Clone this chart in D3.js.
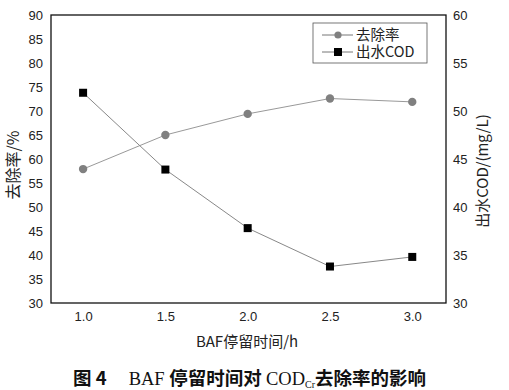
<!DOCTYPE html>
<html>
<head>
<meta charset="utf-8">
<script src="https://cdn.jsdelivr.net/npm/d3@7"></script>
<style>
body{margin:0;background:#fff;}
text{font-family:"Liberation Sans",Arial,sans-serif;}
.cjk{font-family:"Noto Sans CJK SC","Liberation Sans",sans-serif;}
</style>
</head>
<body>
<div id="chart"></div>
<script>
const width=509;
const height=390;

//data
const hours=[1.0,1.5,2.0,2.5,3.0];
const removalRate=[57.9,65.0,69.4,72.6,71.9];
const effluentCOD=[51.9,43.9,37.8,33.8,34.8];
const xTicks=[1.0,1.5,2.0,2.5,3.0];
const leftTicks=d3.range(30,91,5);
const rightTicks=d3.range(30,61,5);

const margin={top:15,right:63,bottom:87,left:51};

const svg=d3.select("#chart")
          .append("svg")
          .attr("width",width)
          .attr("height",height);

const x=d3.scaleLinear().domain([0.805,3.205]).range([margin.left,width-margin.right]);
const yL=d3.scaleLinear().domain([30,90]).range([height-margin.bottom,margin.top]);
const yR=d3.scaleLinear().domain([30,60]).range([height-margin.bottom,margin.top]);

//axes without tick marks, only labels
const fmt=d3.format(".1f");
const xAxis=svg.append("g")
    .attr("transform",`translate(0,${height-margin.bottom})`)
    .call(d3.axisBottom(x).tickValues(xTicks).tickFormat(fmt).tickSize(0).tickPadding(9));
const leftAxis=svg.append("g")
    .attr("transform",`translate(${margin.left},0)`)
    .call(d3.axisLeft(yL).tickValues(leftTicks).tickSize(0).tickPadding(8));
const rightAxis=svg.append("g")
    .attr("transform",`translate(${width-margin.right},0)`)
    .call(d3.axisRight(yR).tickValues(rightTicks).tickSize(0).tickPadding(7));

[xAxis,leftAxis,rightAxis].forEach(g=>{
    g.select(".domain").remove();
    g.selectAll("text").attr("font-size",13).attr("fill","#222")
        .attr("font-family","Liberation Sans, Arial, sans-serif");
});

//frame
svg.append("rect")
    .attr("x",margin.left).attr("y",margin.top)
    .attr("width",width-margin.left-margin.right)
    .attr("height",height-margin.top-margin.bottom)
    .attr("fill","none").attr("stroke","#111").attr("stroke-width",1.3);

//removal rate line (left axis)
const lineL=d3.line().x((d,i)=>x(hours[i])).y(d=>yL(d));
svg.append("path")
    .attr("d",lineL(removalRate))
    .attr("fill","none").attr("stroke","#999").attr("stroke-width",1);
svg.append("g").selectAll("circle")
    .data(removalRate)
    .enter()
    .append("circle")
    .attr("cx",(d,i)=>x(hours[i]))
    .attr("cy",d=>yL(d))
    .attr("r",4.2)
    .attr("fill","#808080");

//COD line (right axis)
const lineR=d3.line().x((d,i)=>x(hours[i])).y(d=>yR(d));
svg.append("path")
    .attr("d",lineR(effluentCOD))
    .attr("fill","none").attr("stroke","#888").attr("stroke-width",1);
svg.append("g").selectAll("rect")
    .data(effluentCOD)
    .enter()
    .append("rect")
    .attr("x",(d,i)=>x(hours[i])-4)
    .attr("y",d=>yR(d)-4)
    .attr("width",8).attr("height",8)
    .attr("fill","#000");

//legend
const legend=svg.append("g").attr("transform","translate(313,23)");
legend.append("rect")
    .attr("width",114).attr("height",40)
    .attr("fill","#fff").attr("stroke","#555").attr("stroke-width",0.8);
const legendItems=[{label:"去除率",type:"circle"},{label:"出水COD",type:"square"}];
legendItems.forEach((it,i)=>{
    const gy=12+i*17;
    legend.append("line")
        .attr("x1",9).attr("x2",40).attr("y1",gy).attr("y2",gy)
        .attr("stroke","#777").attr("stroke-width",1);
    if(it.type==="circle"){
        legend.append("circle").attr("cx",25).attr("cy",gy).attr("r",3.6).attr("fill","#808080");
    }else{
        legend.append("rect").attr("x",21).attr("y",gy-4).attr("width",8).attr("height",8).attr("fill","#000");
    }
    legend.append("text")
        .attr("class","cjk")
        .attr("x",43).attr("y",gy)
        .attr("dy","0.36em")
        .attr("font-size",14.5)
        .attr("fill","#222")
        .text(it.label);
});

//axis titles
svg.append("text")
    .attr("class","cjk")
    .attr("transform",`translate(19,165) rotate(-90)`)
    .attr("text-anchor","middle")
    .attr("font-size",16)
    .attr("fill","#222")
    .text("去除率/%");
svg.append("text")
    .attr("class","cjk")
    .attr("transform",`translate(488,171) rotate(-90)`)
    .attr("text-anchor","middle")
    .attr("font-size",15)
    .attr("fill","#222")
    .text("出水COD/(mg/L)");
svg.append("text")
    .attr("class","cjk")
    .attr("x",247).attr("y",347)
    .attr("text-anchor","middle")
    .attr("font-size",15)
    .attr("fill","#222")
    .text("BAF停留时间/h");

//caption
const cap=svg.append("text")
    .attr("x",73).attr("y",385)
    .attr("font-size",18.5)
    .attr("fill","#111");
cap.append("tspan").attr("class","cjk").attr("font-weight","bold").text("图 4");
cap.append("tspan").attr("font-family","Liberation Serif, Times New Roman, serif").attr("dx",22).text("BAF ");
cap.append("tspan").attr("class","cjk").attr("font-weight","bold").text("停留时间对 ");
cap.append("tspan").attr("font-family","Liberation Serif, Times New Roman, serif").text("COD");
cap.append("tspan").attr("font-family","Liberation Serif, Times New Roman, serif").attr("font-size",10).attr("dy",3).text("Cr");
cap.append("tspan").attr("class","cjk").attr("font-weight","bold").attr("dy",-3).text("去除率的影响");
</script>
</body>
</html>
